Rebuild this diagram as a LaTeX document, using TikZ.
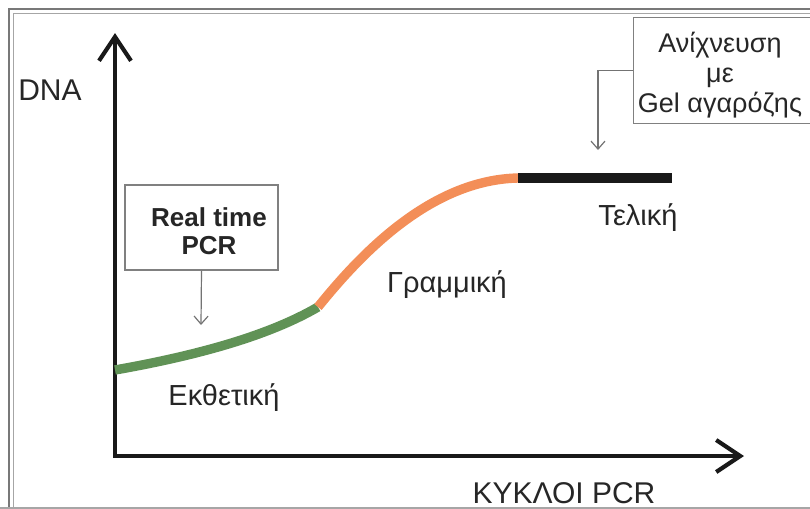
\documentclass[tikz,border=0pt]{standalone}
\usepackage{fontspec}
\setmainfont{Liberation Sans}
\usetikzlibrary{arrows.meta}

\definecolor{expgreen}{RGB}{96,146,86}
\definecolor{linorange}{RGB}{243,142,88}
\definecolor{framegray}{RGB}{120,120,120}

\begin{document}
\begin{tikzpicture}[x=0.5pt, y=-0.5pt,
    axisline/.style={line width=2.1pt, black!90,
        {Straight Barb[length=12pt,width=16pt]}-{Straight Barb[length=12pt,width=16pt]}},
    phase/.style={line width=4.7pt},
    lbl/.style={font=\fontsize{14.5}{17}\selectfont, text=black!85, inner sep=0pt},
    notebox/.style={draw=black!50, line width=0.6pt, inner sep=0pt},
    hint/.style={draw=black!55, line width=0.6pt, -{Straight Barb[length=4pt,width=7pt]}}]
    \useasboundingbox (0,0) rectangle (810,509);
    \clip (0,0) rectangle (810,509);

    % frame round the figure
    \draw[framegray, line width=1.1pt] (9,520) -- (9,9) -- (850,9);
    \draw[black!35, line width=0.5pt] (13,520) -- (13,13) -- (850,13);
    \draw[black!35, line width=0.7pt] (0,508) -- (810,508);

    % axes
    \coordinate (ytip) at (115,33);
    \coordinate (xtip) at (744,456);
    \draw[axisline] (ytip) |- (xtip);
    \node[lbl, font=\fontsize{15}{18}\selectfont, anchor=base] (dna) at (50,100) {DNA};
    \node[lbl, font=\fontsize{15}{18}\selectfont, anchor=base] (cycles) at (564,503) {ΚΥΚΛΟΙ PCR};

    % amplification curve, one colour per phase
    \coordinate (start) at (115,370);
    \coordinate (lag) at (318,307);
    \coordinate (plateau) at (518,178);
    \coordinate (stop) at (672,178);
    \draw[phase, expgreen] (start) .. controls (200,355) and (270,335) .. (lag);
    \draw[phase, linorange] (lag) .. controls (360,255) and (430,180) .. (plateau);
    \draw[phase, black!90] (plateau) -- (stop);

    \node[lbl, anchor=base] (expo) at (224,405) {Εκθετική};
    \node[lbl, anchor=base] (linear) at (447,292) {Γραμμική};
    \node[lbl, anchor=base] (final) at (638,225) {Τελική};

    % detection notes
    \node[notebox, minimum width=76.5pt, minimum height=42.5pt] (rtbox) at (201.5,227.5) {};
    \node[font=\bfseries\fontsize{13}{14}\selectfont, align=center, text=black!85, inner sep=0pt]
        (rttext) at (209,231) {Real time\\PCR};
    \coordinate (rtend) at (201,325);
    \draw[hint] (rtbox.south) -- (rtend);

    \node[notebox, minimum width=110pt, minimum height=53pt, anchor=north west] (gelbox) at (633,17) {};
    \node[font=\fontsize{13.5}{15}\selectfont, align=center, text=black!85, inner sep=0pt]
        (geltext) at (720,75) {Ανίχνευση\\με\\Gel αγαρόζης};
    \coordinate (gelend) at (598,150);
    \draw[hint] (gelbox.west) -| (gelend);
\end{tikzpicture}
\end{document}
